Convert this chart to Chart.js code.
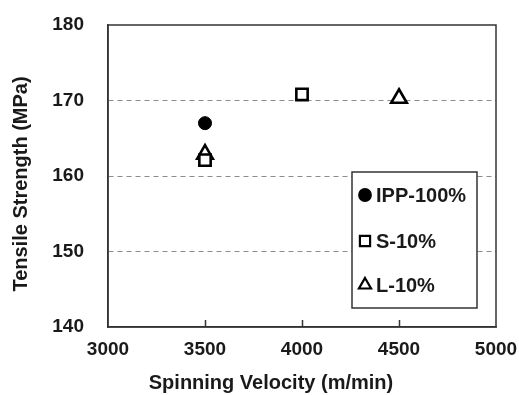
<!DOCTYPE html>
<html>
<head>
<meta charset="utf-8">
<script src="https://cdn.jsdelivr.net/npm/chart.js@4.4.1/dist/chart.umd.min.js"></script>
<style>
  html, body { margin: 0; padding: 0; background: #fff; }
  #wrap { width: 519px; height: 395px; position: relative; }
</style>
</head>
<body>
<div id="wrap"><canvas id="c" width="519" height="395"></canvas></div>
<script>
// ---- data ----
const seriesNames = ["IPP-100%", "S-10%", "L-10%"];
const ippVelocity = [3500];
const ippStrength = [167.0];
const sVelocity = [3500, 4000];
const sStrength = [162.1, 170.8];
const lVelocity = [3500, 4500];
const lStrength = [162.9, 170.3];
const xTicks = [3000, 3500, 4000, 4500, 5000];
const yTicks = [140, 150, 160, 170, 180];
const xTitle = "Spinning Velocity (m/min)";
const yTitle = "Tensile Strength (MPa)";

const FONT = "'Liberation Sans', Arial, sans-serif";
const INK = "#1a1a1a";
const AXIS = "#333";

function pts(xs, ys) { return xs.map((x, i) => ({ x: x, y: ys[i] })); }

const frameAndTicks = {
  id: 'frameAndTicks',
  afterDatasetsDraw(chart) {
    const { ctx, chartArea: a, scales: { x } } = chart;
    ctx.save();
    ctx.strokeStyle = AXIS;
    ctx.lineWidth = 1.5;
    ctx.strokeRect(a.left, a.top, a.right - a.left, a.bottom - a.top);
    x.ticks.forEach(t => {
      if (t.value <= x.min || t.value >= x.max) return;
      const px = Math.round(x.getPixelForValue(t.value)) + 0.5;
      ctx.beginPath();
      ctx.moveTo(px, a.bottom);
      ctx.lineTo(px, a.bottom - 7);
      ctx.stroke();
    });
    ctx.restore();
  }
};

const axisTitles = {
  id: 'axisTitles',
  afterDraw(chart) {
    const { ctx } = chart;
    ctx.save();
    ctx.fillStyle = INK;
    ctx.font = "bold 20px " + FONT;
    ctx.textAlign = 'center';
    ctx.textBaseline = 'middle';
    ctx.fillText(xTitle, 271, 383);
    ctx.translate(21, 184);
    ctx.rotate(-Math.PI / 2);
    ctx.fillText(yTitle, 0, 0);
    ctx.restore();
  }
};

const insideLegend = {
  id: 'insideLegend',
  afterDraw(chart) {
    const { ctx } = chart;
    const box = { left: 352, top: 172, right: 477, bottom: 308 };
    ctx.save();
    ctx.fillStyle = '#fff';
    ctx.fillRect(box.left, box.top, box.right - box.left, box.bottom - box.top);
    ctx.strokeStyle = AXIS;
    ctx.lineWidth = 1.5;
    ctx.strokeRect(box.left, box.top, box.right - box.left, box.bottom - box.top);
    const rows = [195, 241, 285];
    const legendRadius = [5.8, 7.2, 7];
    chart.data.datasets.forEach((ds, i) => {
      const y = rows[i];
      ctx.fillStyle = ds.backgroundColor;
      ctx.strokeStyle = ds.borderColor;
      ctx.lineWidth = 2.2;
      Chart.helpers.drawPoint(ctx, { pointStyle: ds.pointStyle, radius: legendRadius[i], rotation: 0, borderWidth: 2.2 }, 365, y);
      ctx.fillStyle = INK;
      ctx.font = "bold 20px " + FONT;
      ctx.textAlign = 'left';
      ctx.textBaseline = 'middle';
      ctx.fillText(ds.label, 376, y + 1);
    });
    ctx.restore();
  }
};

new Chart(document.getElementById('c'), {
  type: 'scatter',
  data: {
    datasets: [
      { label: seriesNames[0], data: pts(ippVelocity, ippStrength), pointStyle: 'circle', pointRadius: 6.5, backgroundColor: '#000', borderColor: '#000', borderWidth: 1 },
      { label: seriesNames[1], data: pts(sVelocity, sStrength), pointStyle: 'rect', pointRadius: 8, backgroundColor: '#fff', borderColor: '#000', borderWidth: 2.6 },
      { label: seriesNames[2], data: pts(lVelocity, lStrength), pointStyle: 'triangle', pointRadius: 9, backgroundColor: '#fff', borderColor: '#000', borderWidth: 2.6 }
    ]
  },
  options: {
    responsive: false,
    animation: false,
    events: [],
    layout: { padding: { top: 25, right: 23, left: 0, bottom: 0 } },
    plugins: { legend: { display: false }, tooltip: { enabled: false } },
    scales: {
      x: {
        type: 'linear',
        min: xTicks[0], max: xTicks[xTicks.length - 1],
        afterBuildTicks: s => { s.ticks = xTicks.map(v => ({ value: v })); },
        afterFit: s => { s.height = 68; s.paddingLeft = 0; s.paddingRight = 0; },
        grid: { display: false, drawTicks: false },
        border: { display: true, color: AXIS, width: 1.5 },
        ticks: { color: INK, font: { family: FONT, size: 19, weight: 'bold' }, padding: 11, maxRotation: 0, autoSkip: false, callback: v => String(v) },
        title: { display: false, text: xTitle }
      },
      y: {
        type: 'linear',
        min: yTicks[0], max: yTicks[yTicks.length - 1],
        afterBuildTicks: s => { s.ticks = yTicks.map(v => ({ value: v })); },
        afterFit: s => { s.width = 108; s.paddingTop = 0; s.paddingBottom = 0; },
        grid: {
          drawTicks: false,
          color: c => (c.tick && (c.tick.value === yTicks[0] || c.tick.value === yTicks[yTicks.length - 1])) ? 'rgba(0,0,0,0)' : '#8c8c8c',
          lineWidth: 1
        },
        border: { display: true, color: AXIS, width: 1.5, dash: [5, 4] },
        ticks: { color: INK, font: { family: FONT, size: 19, weight: 'bold' }, padding: 24, callback: v => String(v) },
        title: { display: false, text: yTitle }
      }
    }
  },
  plugins: [frameAndTicks, axisTitles, insideLegend]
});
</script>
</body>
</html>
